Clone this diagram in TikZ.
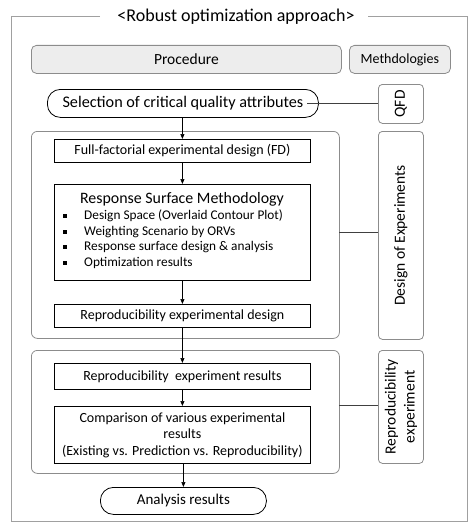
\documentclass[tikz,border=0pt]{standalone}
\usepackage{fontspec}
\setmainfont{Carlito}
\usetikzlibrary{arrows.meta}
\definecolor{framegray}{HTML}{A0A0A0}
\definecolor{boxgray}{HTML}{8C8C8C}
\definecolor{fillgray}{HTML}{EDEDED}
\begin{document}
\begin{tikzpicture}[x=1pt,y=-1pt,
  headbox/.style={draw=boxgray,fill=fillgray,rounded corners=5pt,line width=0.8pt,anchor=north west,inner sep=0pt},
  methbox/.style={draw=boxgray,rounded corners=4pt,line width=0.8pt,anchor=north west,inner sep=0pt,fill=white},
  groupbox/.style={draw=boxgray,rounded corners=6pt,line width=0.8pt,anchor=north west,inner sep=0pt},
  stepbox/.style={draw=black,line width=0.8pt,anchor=north west,inner sep=0pt,fill=white},
  stadium/.style={draw=black,rounded corners=13pt,line width=0.8pt,anchor=north west,inner sep=0pt,fill=white},
  arr/.style={-{Triangle[length=5pt,width=4pt]},line width=0.7pt},
  link/.style={line width=0.8pt,draw=black!75}
]
\useasboundingbox (0,0) rectangle (474,527);
% outer frame
\node (title) at (236,17) {\fontsize{18}{20}\selectfont <Robust optimization approach>};
\coordinate (fl) at (100,17);
\coordinate (fr) at (368,17);
\draw[framegray,line width=1pt] (fl) -- (11,17) -- (11,521) -- (467,521) -- (467,17) -- (fr);

% headers
\node[headbox,minimum width=310pt,minimum height=28pt] (proc) at (31,45) {\fontsize{15.5}{17}\selectfont Procedure};
\node[headbox,minimum width=101pt,minimum height=28pt] (meth) at (349,45) {\fontsize{14}{16}\selectfont Methdologies};

% selection
\node[stadium,minimum width=271pt,minimum height=28pt] (sel) at (47,89) {\fontsize{16.2}{18}\selectfont Selection of critical quality attributes};
\node[methbox,minimum width=45pt,minimum height=39pt] (qfd) at (378,84) {};
\node[rotate=90] (qfdt) at (qfd.center) {\fontsize{15.5}{17}\selectfont QFD};
\coordinate (selr) at (307,103);
\draw[link] (selr) -- (qfd.west |- selr);

% group 1
\node[groupbox,minimum width=308pt,minimum height=207pt] (g1) at (31,131) {};
\node[methbox,minimum width=45pt,minimum height=208pt] (doe) at (378,131) {};
\node[rotate=90] (doet) at (doe.center) {\fontsize{15.5}{17}\selectfont Design of Experiments};
\coordinate (g1r) at (339,232);
\draw[link] (g1r) -- (doe.west |- g1r);

\node[stepbox,minimum width=256pt,minimum height=23pt] (fd) at (54,139) {\fontsize{14}{16}\selectfont Full-factorial experimental design (FD)};
\node[stepbox,minimum width=256pt,minimum height=96pt] (rsm) at (54,184) {};
\node[anchor=center] (rsmt) at (182,199) {\fontsize{15.9}{18}\selectfont Response Surface Methodology};
\node[anchor=west,inner sep=0pt] (b1) at (84,216) {\fontsize{13.3}{15}\selectfont Design Space (Overlaid Contour Plot)};
\node[anchor=west,inner sep=0pt] (b2) at (84,232) {\fontsize{13.3}{15}\selectfont Weighting Scenario by ORVs};
\node[anchor=west,inner sep=0pt] (b3) at (84,247) {\fontsize{13.3}{15}\selectfont Response surface design \& analysis};
\node[anchor=west,inner sep=0pt] (b4) at (84,263) {\fontsize{13.3}{15}\selectfont Optimization results};
\foreach \y/\n in {216/m1,232/m2,247/m3,263/m4}
  \node[fill=black,inner sep=0pt,minimum size=3.2pt] (\n) at (65,\y) {};
\node[stepbox,minimum width=256pt,minimum height=23pt] (rd) at (54,304) {\fontsize{14}{16}\selectfont Reproducibility experimental design};

% group 2
\node[groupbox,minimum width=308pt,minimum height=123pt] (g2) at (31,350) {};
\node[methbox,minimum width=45pt,minimum height=113pt] (rex) at (378,350) {};
\node[rotate=90,align=center,font=\fontsize{15.5}{19}\selectfont] (rext) at (rex.center) {Reproducibility\\experiment};
\coordinate (g2r) at (339,405);
\draw[link] (g2r) -- (rex.west |- g2r);

\node[stepbox,minimum width=256pt,minimum height=26pt] (rr) at (54,363) {\fontsize{14}{16}\selectfont Reproducibility\ \ experiment results};
\node[stepbox,minimum width=256pt,minimum height=57pt,align=center,font=\fontsize{14}{16.5}\selectfont] (cmp) at (54,406) {Comparison of various experimental\\results\\(Existing vs. Prediction vs. Reproducibility)};

\node[stadium,minimum width=166pt,minimum height=27pt] (ana) at (100,487) {\fontsize{15}{17}\selectfont Analysis results};

% arrows
\draw[arr] (sel.south -| fd.north) -- (fd.north);
\draw[arr] (fd.south) -- (rsm.north);
\draw[arr] (rsm.south) -- (rd.north);
\draw[arr] (rd.south) -- (rr.north);
\draw[arr] (rr.south) -- (cmp.north);
\draw[arr] (cmp.south -| ana.north) -- (ana.north);
\end{tikzpicture}
\end{document}
